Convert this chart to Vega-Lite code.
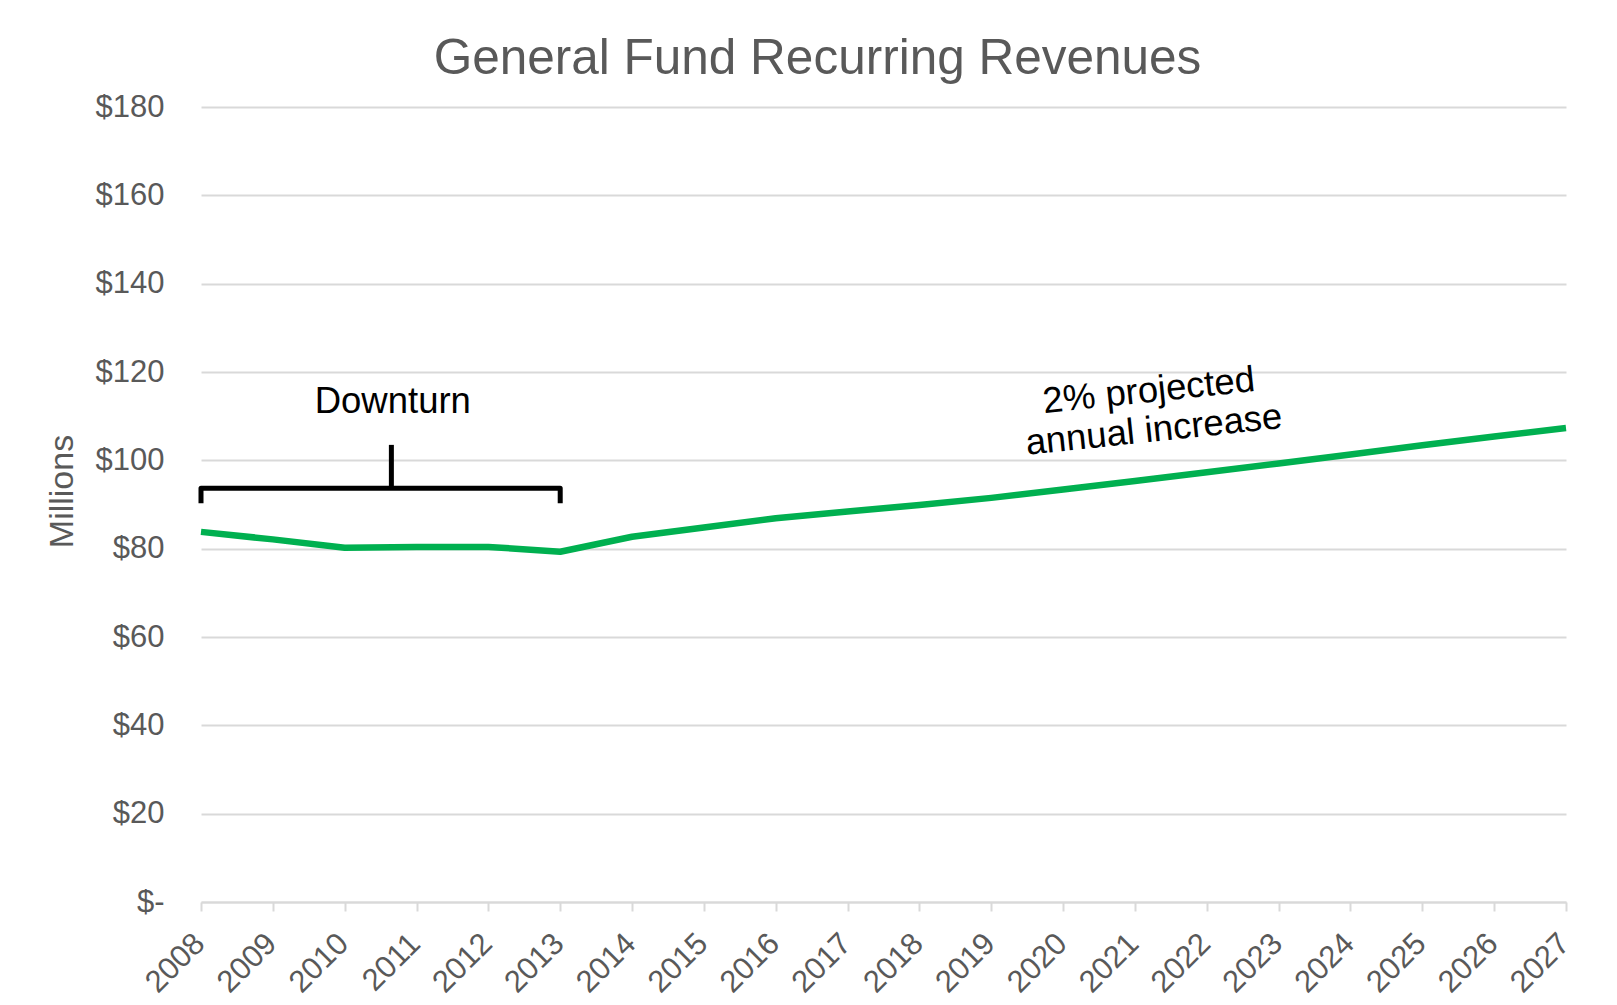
{
  "$schema": "https://vega.github.io/schema/vega-lite/v6.json",
  "width": 1365,
  "height": 795,
  "autosize": {"type": "none"},
  "padding": {"left": 201, "top": 107, "right": 51, "bottom": 103},
  "background": "white",
  "config": {
    "font": "Liberation Sans",
    "view": {"stroke": null}
  },
  "title": {
    "text": "General Fund Recurring Revenues",
    "fontSize": 49.5,
    "fontWeight": "normal",
    "color": "#595959",
    "font": "Liberation Sans",
    "anchor": "middle",
    "dx": -66,
    "offset": 7
  },
  "datasets": {
    "revenue": [
      {"year": 2008, "value": 83.8},
      {"year": 2009, "value": 82.1},
      {"year": 2010, "value": 80.2},
      {"year": 2011, "value": 80.4},
      {"year": 2012, "value": 80.4},
      {"year": 2013, "value": 79.3},
      {"year": 2014, "value": 82.7},
      {"year": 2015, "value": 84.8},
      {"year": 2016, "value": 86.9},
      {"year": 2017, "value": 88.4},
      {"year": 2018, "value": 89.9},
      {"year": 2019, "value": 91.5},
      {"year": 2020, "value": 93.4},
      {"year": 2021, "value": 95.3},
      {"year": 2022, "value": 97.3},
      {"year": 2023, "value": 99.3},
      {"year": 2024, "value": 101.3},
      {"year": 2025, "value": 103.4},
      {"year": 2026, "value": 105.4},
      {"year": 2027, "value": 107.3}
    ],
    "bracket": [
      {"part": "brace", "ord": 1, "year": 2008, "value": 90.3},
      {"part": "brace", "ord": 2, "year": 2008, "value": 93.7},
      {"part": "brace", "ord": 3, "year": 2013, "value": 93.7},
      {"part": "brace", "ord": 4, "year": 2013, "value": 90.3},
      {"part": "stem", "ord": 1, "year": 2010.65, "value": 93.7},
      {"part": "stem", "ord": 2, "year": 2010.65, "value": 103.5}
    ],
    "notes": [
      {"label": "Downturn", "year": 2010.67, "value": 110.7, "tilt": 0},
      {"label": "2% projected", "year": 2021.21, "value": 113.2, "tilt": -6},
      {"label": "annual increase", "year": 2021.28, "value": 104.3, "tilt": -6}
    ]
  },
  "layer": [
    {
      "data": {"name": "revenue"},
      "mark": {"type": "line", "color": "#00b050", "strokeWidth": 6.5, "strokeJoin": "round"},
      "encoding": {
        "x": {
          "field": "year",
          "type": "quantitative",
          "scale": {"domain": [2008, 2027], "nice": false, "zero": false},
          "axis": {
            "title": null,
            "values": [2008, 2009, 2010, 2011, 2012, 2013, 2014, 2015, 2016, 2017, 2018, 2019, 2020, 2021, 2022, 2023, 2024, 2025, 2026, 2027],
            "format": "d",
            "labelAngle": -45,
            "labelFontSize": 31,
            "labelColor": "#595959",
            "labelFont": "Liberation Sans",
            "labelPadding": 17,
            "labelOffset": -12,
            "labelOverlap": false,
            "labelBound": false,
            "grid": false,
            "domainColor": "#d9d9d9",
            "domainWidth": 2,
            "tickColor": "#d9d9d9",
            "tickWidth": 2,
            "tickSize": 9
          }
        },
        "y": {
          "field": "value",
          "type": "quantitative",
          "scale": {"domain": [0, 180], "nice": false},
          "axis": {
            "title": "Millions",
            "titleFontSize": 34,
            "titleFontWeight": "normal",
            "titleColor": "#595959",
            "titleFont": "Liberation Sans",
            "titlePadding": 16,
            "titleY": 384,
            "values": [0, 20, 40, 60, 80, 100, 120, 140, 160, 180],
            "labelExpr": "datum.value == 0 ? '$-\u00a0\u00a0' : '$' + datum.value",
            "labelFontSize": 31,
            "labelColor": "#595959",
            "labelFont": "Liberation Sans",
            "labelPadding": 37,
            "ticks": false,
            "domain": false,
            "grid": true,
            "gridColor": "#d9d9d9",
            "gridWidth": 2
          }
        }
      }
    },
    {
      "data": {"name": "bracket"},
      "mark": {"type": "line", "color": "black", "strokeWidth": 5, "strokeJoin": "round", "strokeCap": "butt"},
      "encoding": {
        "x": {"field": "year", "type": "quantitative"},
        "y": {"field": "value", "type": "quantitative"},
        "detail": {"field": "part"},
        "order": {"field": "ord"}
      }
    },
    {
      "data": {"name": "notes"},
      "mark": {"type": "text", "fontSize": 36.5, "color": "black", "font": "Liberation Sans", "align": "center", "baseline": "alphabetic"},
      "encoding": {
        "x": {"field": "year", "type": "quantitative"},
        "y": {"field": "value", "type": "quantitative"},
        "text": {"field": "label"},
        "angle": {"field": "tilt", "type": "quantitative", "scale": null}
      }
    }
  ]
}
